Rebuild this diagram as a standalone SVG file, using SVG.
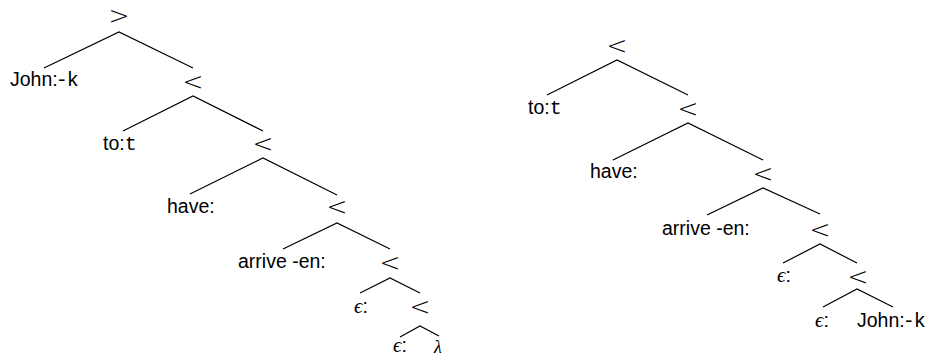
<svg xmlns="http://www.w3.org/2000/svg" width="929" height="356" viewBox="0 0 929 356">
<style>
.t{font-family:"Liberation Sans","DejaVu Sans",sans-serif;font-size:19.5px;fill:#000}
.op{font-family:"DejaVu Sans","Liberation Sans",sans-serif;font-size:25px;font-weight:200;fill:#000;text-anchor:middle}
.m{font-family:"Liberation Mono","DejaVu Sans Mono",monospace;font-size:20px;letter-spacing:-1px}
.e{font-family:"Liberation Serif","DejaVu Serif",serif;font-style:italic;font-size:21px}
.l{stroke:#000;stroke-width:1.2;fill:none}
</style>
<rect width="929" height="356" fill="#fff"/>
<g id="connectors">
<polyline class="l" points="44,68 119,32 193,68"/>
<polyline class="l" points="123,131 193,96 263,131"/>
<polyline class="l" points="190,194 263,158 337,195"/>
<polyline class="l" points="283,249 337,223 390,249"/>
<polyline class="l" points="360,293 390,278 420,293"/>
<polyline class="l" points="400,337 420,326 439,336"/>
<polyline class="l" points="547,95 617,60 688,95"/>
<polyline class="l" points="613,160 688,123 763,160"/>
<polyline class="l" points="707,215 763,188 820,214"/>
<polyline class="l" points="783,263 820,244 857,263"/>
<polyline class="l" points="823,307 857,289 893,307"/>
</g>
<g id="tree1">
<g id="n1_root"><text class="op" x="119" y="24">&gt;</text></g>
<g id="n1_john"><text class="t" x="10" y="86">John:<tspan class="m" dx="-2">-k</tspan></text></g>
<g id="n1_lt1"><text class="op" x="193" y="90">&lt;</text></g>
<g id="n1_to"><text class="t" x="103" y="150">to:<tspan class="m">t</tspan></text></g>
<g id="n1_lt2"><text class="op" x="263" y="152">&lt;</text></g>
<g id="n1_have"><text class="t" x="167" y="213">have:</text></g>
<g id="n1_lt3"><text class="op" x="337" y="215">&lt;</text></g>
<g id="n1_arrive"><text class="t" x="238" y="268">arrive -en:</text></g>
<g id="n1_lt4"><text class="op" x="390" y="271">&lt;</text></g>
<g id="n1_eps1"><text class="t" x="354" y="313"><tspan class="e">ϵ</tspan>:</text></g>
<g id="n1_lt5"><text class="op" x="420" y="315">&lt;</text></g>
<g id="n1_eps2"><text class="t" x="393" y="352"><tspan class="e">ϵ</tspan>:</text></g>
<g id="n1_lambda"><text class="t e" x="434" y="353" style="font-size:18px">λ</text></g>
</g>
<g id="tree2">
<g id="n2_root"><text class="op" x="617" y="54">&lt;</text></g>
<g id="n2_to"><text class="t" x="528" y="114">to:<tspan class="m">t</tspan></text></g>
<g id="n2_lt1"><text class="op" x="688" y="117">&lt;</text></g>
<g id="n2_have"><text class="t" x="590" y="178">have:</text></g>
<g id="n2_lt2"><text class="op" x="763" y="182">&lt;</text></g>
<g id="n2_arrive"><text class="t" x="662" y="235">arrive -en:</text></g>
<g id="n2_lt3"><text class="op" x="820" y="238">&lt;</text></g>
<g id="n2_eps1"><text class="t" x="777" y="282"><tspan class="e">ϵ</tspan>:</text></g>
<g id="n2_lt4"><text class="op" x="858" y="285">&lt;</text></g>
<g id="n2_eps2"><text class="t" x="815" y="327"><tspan class="e">ϵ</tspan>:</text></g>
<g id="n2_john"><text class="t" x="857" y="327">John:<tspan class="m" dx="-2">-k</tspan></text></g>
</g>
</svg>
